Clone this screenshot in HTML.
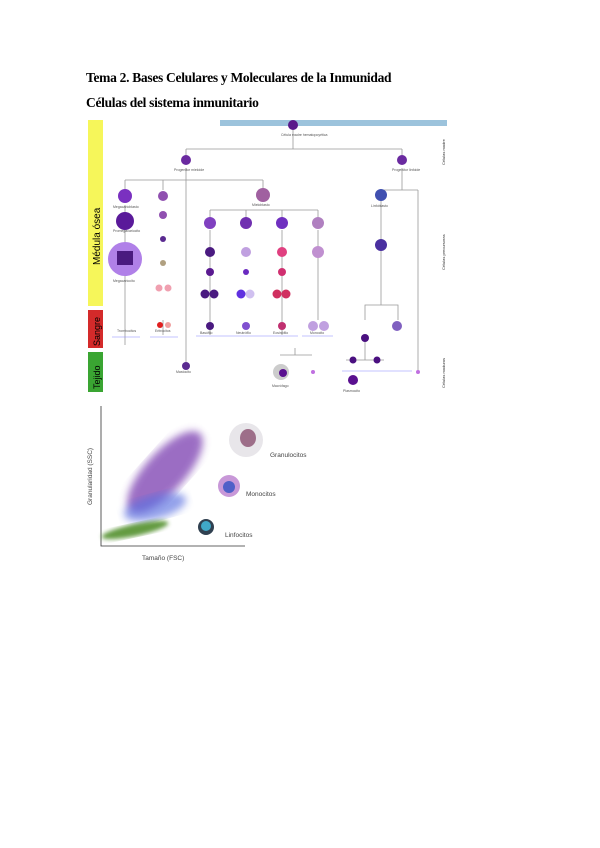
<!DOCTYPE html>
<html><head><meta charset="utf-8"><style>
body{margin:0;background:#fff;width:600px;height:848px;overflow:hidden;position:relative;font-family:"Liberation Serif",serif}
.t{position:absolute;left:86px;font-weight:bold;font-size:13.5px;color:#000;letter-spacing:-0.3px}
svg{position:absolute;left:0;top:0}
</style></head><body>
<div class="t" style="top:70px">Tema 2. Bases Celulares y Moleculares de la Inmunidad</div>
<div class="t" style="top:95px">Células del sistema inmunitario</div>
<svg width="600" height="848" font-family="Liberation Sans, sans-serif">
<rect x="88" y="120" width="15" height="186" fill="#f6f65a"/>
<rect x="88" y="310" width="15" height="38" fill="#d42a2a"/>
<rect x="88" y="352" width="15" height="40" fill="#3aa532"/>
<text transform="translate(100,265) rotate(-90)" font-size="10">Médula ósea</text>
<text transform="translate(100,346) rotate(-90)" font-size="9">Sangre</text>
<text transform="translate(100,389) rotate(-90)" font-size="9">Tejido</text>
<rect x="220" y="120" width="227" height="6" fill="#9cc3dc"/>
<g stroke="#999" stroke-width="0.8" fill="none">
<path d="M186,149 H402 M186,149 V160 M402,149 V160 M293,130 V149"/>
<path d="M125,180 H263 M125,180 V190 M163,180 V190 M263,180 V190 M186,168 V365"/>
<path d="M210,210 H318 M210,210 V218 M246,210 V218 M282,210 V218 M318,210 V218"/>
<path d="M125,205 V345 M163,320 V335 M210,230 V335 M282,230 V335 M318,230 V320"/>
<path d="M381,190 H418 M402,168 V190 M381,190 V250 M418,190 V370 M381,250 V305 H365 V320 M381,305 H398 V320"/>
<path d="M365,335 V360 M346,360 H384 M280,355 H312 M295,348 V355"/>
</g>
<g stroke="#88f" stroke-width="0.6">
<line x1="112" y1="337" x2="140" y2="337"/><line x1="150" y1="337" x2="178" y2="337"/>
<line x1="196" y1="336" x2="298" y2="336"/><line x1="302" y1="336" x2="333" y2="336"/><line x1="342" y1="371" x2="412" y2="371"/>
</g>
<g>
<circle cx="293" cy="125" r="5" fill="#5a1a8a"/>
<circle cx="186" cy="160" r="5" fill="#6a2aa0"/><circle cx="402" cy="160" r="5" fill="#6a2aa0"/>
<circle cx="125" cy="196" r="7" fill="#7a30c0"/><circle cx="125" cy="221" r="9" fill="#5a1a9a"/>
<circle cx="125" cy="259" r="17" fill="#b080e8"/><rect x="117" y="251" width="16" height="14" fill="#4a1a80"/>
<circle cx="163" cy="196" r="5" fill="#9050b0"/><circle cx="163" cy="215" r="4" fill="#9050b0"/>
<circle cx="163" cy="239" r="3" fill="#5a2a90"/><circle cx="163" cy="263" r="3" fill="#b0a080"/>
<circle cx="159" cy="288" r="3.5" fill="#f0a0b0"/><circle cx="168" cy="288" r="3.5" fill="#f0a0b0"/>
<circle cx="160" cy="325" r="3" fill="#e02020"/><circle cx="168" cy="325" r="3" fill="#f0a0a0"/>
<circle cx="263" cy="195" r="7" fill="#a060a0"/>
<circle cx="210" cy="223" r="6" fill="#8040c0"/><circle cx="246" cy="223" r="6" fill="#7030b0"/><circle cx="282" cy="223" r="6" fill="#7030c0"/><circle cx="318" cy="223" r="6" fill="#b080c0"/>
<circle cx="210" cy="252" r="5" fill="#4a1a80"/><circle cx="246" cy="252" r="5" fill="#c0a0e0"/><circle cx="282" cy="252" r="5" fill="#e04080"/><circle cx="318" cy="252" r="6" fill="#c090d0"/>
<circle cx="210" cy="272" r="4" fill="#5a1a90"/><circle cx="246" cy="272" r="3" fill="#6a2ac0"/><circle cx="282" cy="272" r="4" fill="#d03070"/>
<circle cx="205" cy="294" r="4.5" fill="#4a1a80"/><circle cx="214" cy="294" r="4.5" fill="#4a1a80"/>
<circle cx="241" cy="294" r="4.5" fill="#6030e0"/><circle cx="250" cy="294" r="4.5" fill="#d0c0f0"/>
<circle cx="277" cy="294" r="4.5" fill="#d03060"/><circle cx="286" cy="294" r="4.5" fill="#d03060"/>
<circle cx="210" cy="326" r="4" fill="#4a1a80"/><circle cx="246" cy="326" r="4" fill="#8050d0"/><circle cx="282" cy="326" r="4" fill="#c03070"/>
<circle cx="313" cy="326" r="5" fill="#c0a0e0"/><circle cx="324" cy="326" r="5" fill="#c0a0e0"/>
<circle cx="381" cy="195" r="6" fill="#4050b0"/><circle cx="381" cy="245" r="6" fill="#4a30a0"/>
<circle cx="365" cy="338" r="4" fill="#4a1080"/><circle cx="397" cy="326" r="5" fill="#8060c0"/>
<circle cx="353" cy="360" r="3.5" fill="#4a1080"/><circle cx="377" cy="360" r="3.5" fill="#4a1080"/>
<circle cx="353" cy="380" r="5" fill="#5a1090"/><circle cx="186" cy="366" r="4" fill="#5a2a90"/>
<circle cx="281" cy="372" r="8" fill="#ccc"/><circle cx="283" cy="373" r="4" fill="#5a1090"/>
<circle cx="313" cy="372" r="2" fill="#c070e0"/><circle cx="418" cy="372" r="2" fill="#c070e0"/>
</g>
<g font-size="3.5" fill="#555">
<text x="281" y="136">Célula madre hematopoyética</text>
<text x="174" y="171">Progenitor mieloide</text><text x="392" y="171">Progenitor linfoide</text>
<text x="113" y="208">Megacarioblasto</text><text x="113" y="232">Promegacariocito</text><text x="113" y="282">Megacariocito</text>
<text x="252" y="206">Mieloblasto</text><text x="371" y="207">Linfoblasto</text>
<text x="117" y="332">Trombocitos</text><text x="155" y="332">Eritrocitos</text>
<text x="200" y="334">Basófilo</text><text x="236" y="334">Neutrófilo</text><text x="273" y="334">Eosinófilo</text><text x="310" y="334">Monocito</text>
<text x="272" y="387">Macrófago</text><text x="343" y="392">Plasmocito</text><text x="176" y="373">Mastocito</text>
</g>
<g font-size="4" fill="#333">
<text transform="translate(445,165) rotate(-90)">Células madre</text>
<text transform="translate(445,270) rotate(-90)">Células precursoras</text>
<text transform="translate(445,388) rotate(-90)">Células maduras</text>
</g>
<g stroke="#333" stroke-width="0.8" fill="none">
<path d="M101,406 V546 H245"/>
</g>
<defs>
<filter id="b"><feGaussianBlur stdDeviation="4"/></filter>
<filter id="b2"><feGaussianBlur stdDeviation="2"/></filter>
</defs>
<ellipse cx="165" cy="472" rx="20" ry="52" transform="rotate(42 165 472)" fill="#7a3cb0" opacity="0.75" filter="url(#b)"/>
<ellipse cx="155" cy="507" rx="32" ry="12" transform="rotate(-15 155 507)" fill="#5a70e0" opacity="0.65" filter="url(#b)"/>
<ellipse cx="135" cy="530" rx="34" ry="6" transform="rotate(-12 135 530)" fill="#4a8a20" opacity="0.85" filter="url(#b2)"/>
<circle cx="246" cy="440" r="17" fill="#e8e6ea"/><ellipse cx="248" cy="438" rx="8" ry="9" fill="#8a5070" opacity="0.8"/>
<circle cx="229" cy="486" r="11" fill="#c898d8"/><circle cx="229" cy="487" r="6" fill="#5060c8"/>
<circle cx="206" cy="527" r="8" fill="#304050"/><circle cx="206" cy="526" r="5" fill="#40a8c8"/>
<g font-size="6.5" fill="#444">
<text x="270" y="457">Granulocitos</text><text x="246" y="496">Monocitos</text><text x="225" y="537">Linfocitos</text>
<text x="142" y="560">Tamaño (FSC)</text>
<text transform="translate(92,505) rotate(-90)">Granularidad (SSC)</text>
</g>
</svg>
</body></html>
